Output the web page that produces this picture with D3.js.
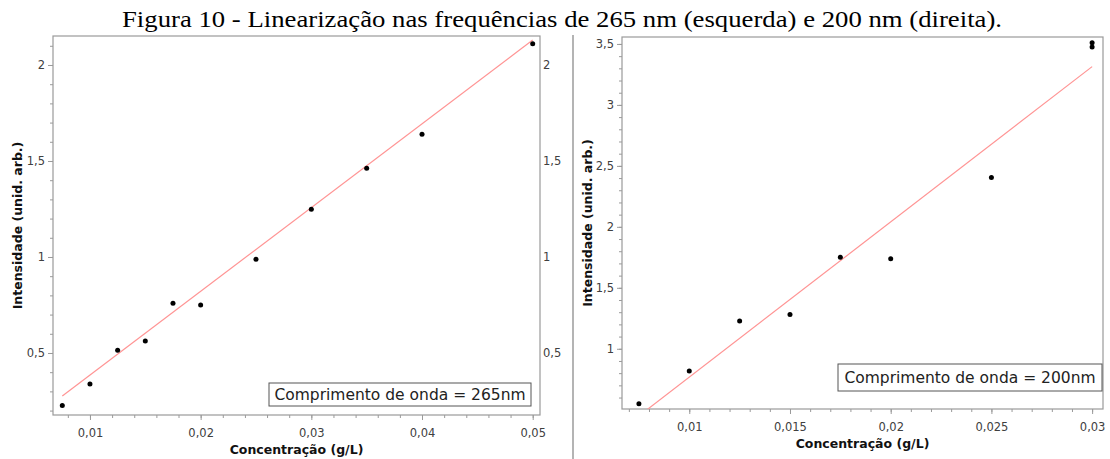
<!DOCTYPE html>
<html>
<head>
<meta charset="utf-8">
<script src="https://cdn.jsdelivr.net/npm/d3@7"></script>
<style>
  html, body { margin: 0; padding: 0; background: #fff; }
  svg { display: block; }
</style>
</head>
<body>
<svg id="fig" width="1110" height="459"></svg>
<script>
// Calibration data, 265 nm
const conc265 = [0.0075, 0.01, 0.0125, 0.015, 0.0175, 0.02, 0.025, 0.03, 0.035, 0.04, 0.05];
const int265  = [0.226, 0.339, 0.514, 0.562, 0.759, 0.750, 0.988, 1.248, 1.462, 1.639, 2.111];
const fitX265 = [0.0075, 0.05];
const fitY265 = [0.276, 2.13];
const xTicks265 = [0.01, 0.02, 0.03, 0.04, 0.05];
const yTicks265 = [0.5, 1, 1.5, 2];

// Calibration data, 200 nm
const conc200 = [0.0075, 0.01, 0.0125, 0.015, 0.0175, 0.02, 0.025, 0.03, 0.03];
const int200  = [0.549, 0.817, 1.227, 1.281, 1.751, 1.738, 2.404, 3.51, 3.475];
const fitX200 = [0.0075, 0.03];
const fitY200 = [0.449, 3.314];
const xTicks200 = [0.01, 0.015, 0.02, 0.025, 0.03];
const yTicks200 = [1, 1.5, 2, 2.5, 3, 3.5];

const titleText = "Figura 10 - Linearização nas frequências de 265 nm (esquerda) e 200 nm (direita).";
const xTitle = "Concentração (g/L)";
const yTitle = "Intensidade (unid. arb.)";

const svg = d3.select("#fig");
const fmt = v => String(+v.toFixed(4)).replace(".", ",");
const FONT = "DejaVu Sans, Verdana, sans-serif";
const AXIS = "#9a9a9a";
const LABEL = "#404040";

svg.append("text")
  .attr("x", 122).attr("y", 27)
  .attr("font-family", "Liberation Serif, Times New Roman, serif")
  .attr("font-size", 23.5)
  .attr("textLength", 880)
  .attr("lengthAdjust", "spacingAndGlyphs")
  .attr("fill", "#000")
  .text(titleText);

// Divider between the two figures
svg.append("line")
  .attr("x1", 573).attr("x2", 573).attr("y1", 35).attr("y2", 459)
  .attr("stroke", "#b4b4b4").attr("stroke-width", 2);

function panel(o) {
  const x = d3.scaleLinear().domain(o.xDomain).range([o.left, o.right]);
  const y = d3.scaleLinear().domain(o.yDomain).range([o.bottom, o.top]);
  const g = svg.append("g");
  const clipId = "clip" + o.id;
  svg.append("clipPath").attr("id", clipId).append("rect")
    .attr("x", o.left).attr("y", o.top)
    .attr("width", o.right - o.left).attr("height", o.bottom - o.top);

  // Frame
  g.append("rect")
    .attr("x", o.left).attr("y", o.top)
    .attr("width", o.right - o.left).attr("height", o.bottom - o.top)
    .attr("fill", "none").attr("stroke", AXIS).attr("stroke-width", 1.2);

  // Minor ticks
  const xMinor = d3.range(o.xMinorStart, o.xDomain[1] + 1e-9, o.xMinorStep);
  g.append("g").attr("transform", `translate(0,${o.bottom})`)
    .call(d3.axisBottom(x).tickValues(xMinor).tickSize(3).tickFormat(""))
    .call(a => a.select(".domain").remove())
    .call(a => a.selectAll("line").attr("stroke", AXIS));
  const yMinor = d3.range(o.yMinorStart, o.yDomain[1] + 1e-9, o.yMinorStep);
  g.append("g").attr("transform", `translate(${o.left},0)`)
    .call(d3.axisLeft(y).tickValues(yMinor).tickSize(3).tickFormat(""))
    .call(a => a.select(".domain").remove())
    .call(a => a.selectAll("line").attr("stroke", AXIS));

  // Major ticks and labels
  const xa = g.append("g").attr("transform", `translate(0,${o.bottom})`)
    .call(d3.axisBottom(x).tickValues(o.xTicks).tickSize(5).tickPadding(9).tickFormat(fmt));
  xa.select(".domain").remove();
  xa.selectAll("line").attr("stroke", AXIS);
  xa.selectAll("text").attr("font-family", FONT).attr("font-size", 11.5).attr("fill", LABEL);

  const ya = g.append("g").attr("transform", `translate(${o.left},0)`)
    .call(d3.axisLeft(y).tickValues(o.yTicks).tickSize(5).tickPadding(3).tickFormat(fmt));
  ya.select(".domain").remove();
  ya.selectAll("line").attr("stroke", AXIS);
  ya.selectAll("text").attr("font-family", FONT).attr("font-size", 11.5).attr("fill", LABEL);

  if (o.rightLabels) {
    const yr = g.append("g").attr("transform", `translate(${o.right},0)`)
      .call(d3.axisRight(y).tickValues(o.yTicks).tickSize(0).tickPadding(3).tickFormat(fmt));
    yr.select(".domain").remove();
    yr.selectAll("text").attr("font-family", FONT).attr("font-size", 11.5).attr("fill", LABEL);
  }

  // Axis titles
  g.append("text")
    .attr("x", (o.left + o.right) / 2).attr("y", o.bottom + o.xTitleGap)
    .attr("text-anchor", "middle")
    .attr("font-family", FONT).attr("font-weight", "bold").attr("font-size", 12.5)
    .attr("fill", "#111").text(xTitle);
  g.append("text")
    .attr("transform", `translate(${o.yTitleX},${(o.top + o.bottom) / 2}) rotate(-90)`)
    .attr("text-anchor", "middle")
    .attr("font-family", FONT).attr("font-weight", "bold").attr("font-size", 12.5)
    .attr("fill", "#111").text(yTitle);

  // Fitted line
  const fit = o.fitX.map((v, i) => [v, o.fitY[i]]);
  g.append("path")
    .datum(fit)
    .attr("clip-path", `url(#${clipId})`)
    .attr("d", d3.line().x(d => x(d[0])).y(d => y(d[1])))
    .attr("fill", "none").attr("stroke", "#ff9494").attr("stroke-width", 1.2);

  // Measured points
  const pts = o.cx.map((v, i) => [v, o.cy[i]]);
  g.selectAll("circle.pt").data(pts).enter().append("circle")
    .attr("class", "pt")
    .attr("cx", d => x(d[0])).attr("cy", d => y(d[1]))
    .attr("r", 2.5).attr("fill", "#000");

  // Legend box
  const lg = g.append("g");
  lg.append("rect")
    .attr("x", o.legend[0]).attr("y", o.legend[1])
    .attr("width", o.legend[2]).attr("height", o.legend[3])
    .attr("fill", "#fff").attr("stroke", "#555").attr("stroke-width", 1);
  lg.append("text")
    .attr("x", o.legend[0] + o.legend[2] / 2).attr("y", o.legend[1] + o.legend[3] / 2 + 5.5)
    .attr("text-anchor", "middle")
    .attr("font-family", FONT).attr("font-size", 15.5).attr("fill", "#222")
    .text(o.legendText);
}

panel({
  id: "a",
  left: 53, right: 540, top: 36, bottom: 415,
  xDomain: [0.00666, 0.05066], yDomain: [0.177, 2.151],
  xTicks: xTicks265, yTicks: yTicks265,
  xMinorStart: 0.008, xMinorStep: 0.002,
  yMinorStart: 0.2, yMinorStep: 0.1,
  rightLabels: true,
  cx: conc265, cy: int265, fitX: fitX265, fitY: fitY265,
  xTitleGap: 39, yTitleX: 22,
  legend: [269, 383, 262, 23],
  legendText: "Comprimento de onda = 265nm"
});

panel({
  id: "b",
  left: 622, right: 1103, top: 37, bottom: 409,
  xDomain: [0.00666, 0.03054], yDomain: [0.506, 3.557],
  xTicks: xTicks200, yTicks: yTicks200,
  xMinorStart: 0.007, xMinorStep: 0.001,
  yMinorStart: 0.6, yMinorStep: 0.1,
  rightLabels: false,
  cx: conc200, cy: int200, fitX: fitX200, fitY: fitY200,
  xTitleGap: 39, yTitleX: 592,
  legend: [838, 364, 264, 27],
  legendText: "Comprimento de onda = 200nm"
});
</script>
</body>
</html>
